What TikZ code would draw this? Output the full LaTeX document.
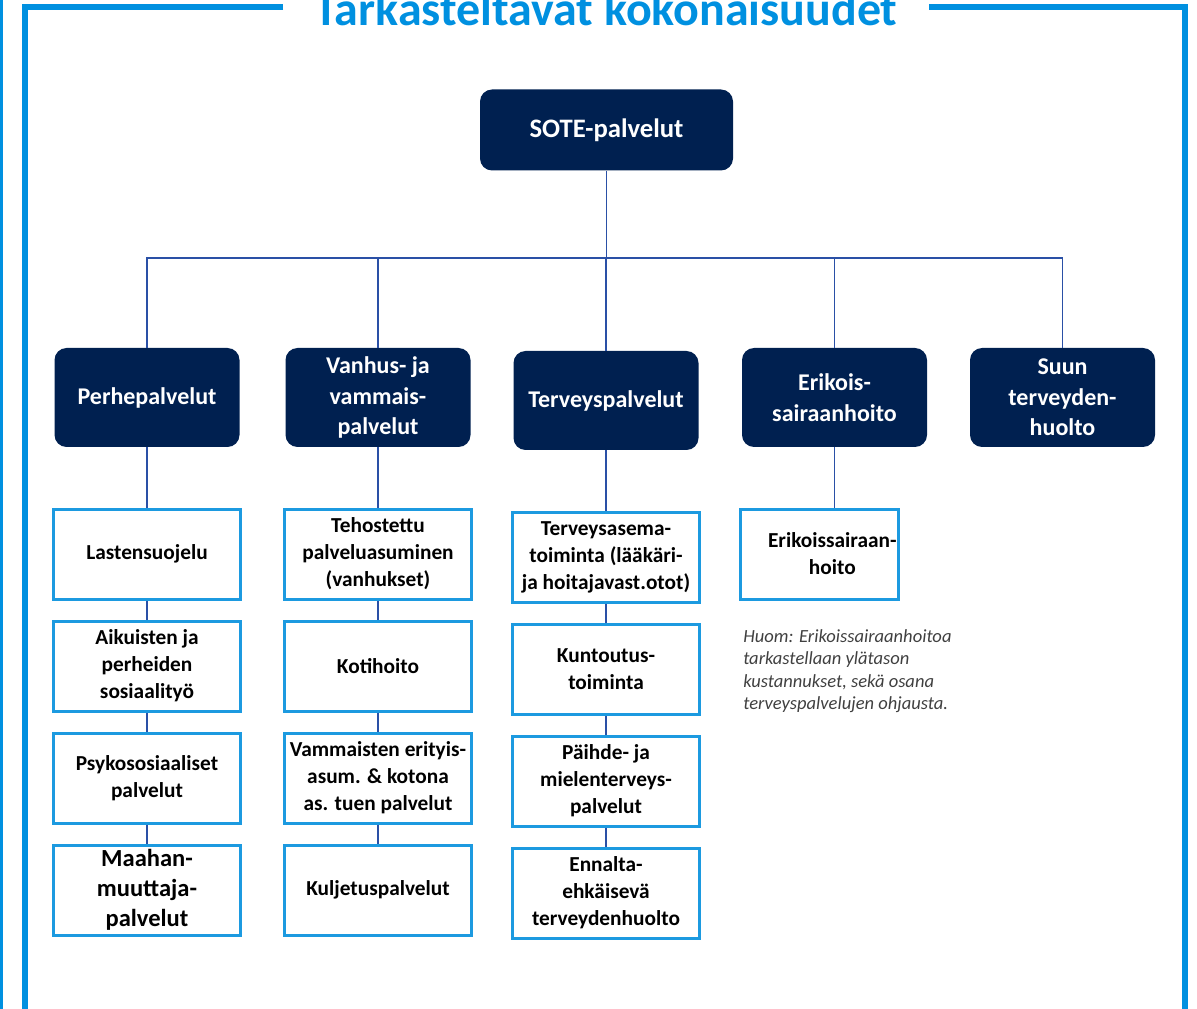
\documentclass[tikz,border=0pt]{standalone}
\usepackage{fontspec}
\setmainfont{Carlito}
\usetikzlibrary{positioning}

\definecolor{navy}{HTML}{002050}
\definecolor{frameblue}{HTML}{0090E0}
\definecolor{boxblue}{HTML}{1C9AE0}
\definecolor{linkblue}{HTML}{2A50A6}
\definecolor{notegray}{HTML}{404040}

\tikzset{
  frame/.style={frameblue,line width=4.5pt},
  headbox/.style={fill=navy,text=white,rounded corners=9pt,align=center,
    minimum width=138.75pt,minimum height=74.25pt,inner sep=2pt,
    font=\bfseries\fontsize{18}{23}\selectfont},
  subbox/.style={draw=boxblue,line width=2.25pt,fill=white,align=center,
    minimum width=140.25pt,minimum height=67.5pt,inner sep=1pt,
    font=\bfseries\fontsize{16}{20.25}\selectfont},
  link/.style={linkblue,line width=1.1pt},
  note/.style={notegray,align=left,inner sep=0pt,
    font=\itshape\fontsize{13.9}{16.9}\selectfont},
}

\begin{document}
\begin{tikzpicture}[x=0.75pt,y=-0.75pt]
\useasboundingbox (0,0) rectangle (1197,1009);

% frame and title
\draw[frameblue,line width=2pt] (1.3,0) -- (1.3,1009);
\draw[frame] (283,7) -- (24.5,7) -- (24.5,1015);
\draw[frame] (929,7) -- (1184.5,7) -- (1184.5,1015);
\node[frameblue,anchor=base,inner sep=0pt,font=\bfseries\fontsize{36}{42}\selectfont] (title) at (606,26) {Tarkasteltavat kokonaisuudet};

% top level
\node[headbox,minimum width=189.75pt,minimum height=60.75pt,font=\bfseries\fontsize{20}{24}\selectfont] (sote) at (606.5,130) {SOTE-palvelut};

% second level
\node[headbox] (perhe) at (147,397.5) {Perhepalvelut};
\node[headbox] (vanhus) at (378,397.5) {Vanhus- ja\\vammais-\\palvelut};
\node[headbox] (terveys) at (606,400.5) {Terveyspalvelut};
\node[headbox] (erik) at (834.5,397.5) {Erikois-\\sairaanhoito};
\node[headbox] (suun) at (1062.5,397.5) {Suun\\terveyden-\\huolto};

\coordinate (bus) at (606,258);
\draw[link] (sote.south) -- (sote.south |- bus);
\draw[link] (perhe.north) -- (perhe.north |- bus) -- (suun.north |- bus) -- (suun.north);
\foreach \n in {vanhus,terveys,erik}
  \draw[link] (\n.north) -- (\n.north |- bus);

% perhepalvelut
\node[subbox] (lasten) at (147,554) {Lastensuojelu};
\node[subbox] (aikuis) at (147,666) {Aikuisten ja\\perheiden\\sosiaalityö};
\node[subbox] (psyko) at (147,778) {Psykososiaaliset\\palvelut};
\node[subbox,font=\bfseries\fontsize{18.4}{22.5}\selectfont] (maahan) at (147,890) {Maahan-\\muuttaja-\\palvelut};
\draw[link] (perhe) -- (lasten) -- (aikuis) -- (psyko) -- (maahan);

% vanhus- ja vammaispalvelut
\node[subbox] (tehost) at (378,554) {Tehostettu\\palveluasuminen\\(vanhukset)};
\node[subbox] (koti) at (378,666) {Kotihoito};
\node[subbox] (vammais) at (378,778) {Vammaisten erityis-\\asum. \& kotona\\as. tuen palvelut};
\node[subbox] (kuljetus) at (378,890) {Kuljetuspalvelut};
\draw[link] (vanhus) -- (tehost) -- (koti) -- (vammais) -- (kuljetus);

% terveyspalvelut
\node[subbox] (asema) at (606,557) {Terveysasema-\\toiminta (lääkäri-\\ja hoitajavast.otot)};
\node[subbox] (kuntou) at (606,669) {Kuntoutus-\\toiminta};
\node[subbox] (paihde) at (606,781) {Päihde- ja\\mielenterveys-\\palvelut};
\node[subbox] (ennalta) at (606,893) {Ennalta-\\ehkäisevä\\terveydenhuolto};
\draw[link] (terveys) -- (asema) -- (kuntou) -- (paihde) -- (ennalta);

% erikoissairaanhoito
\node[subbox,minimum width=118.5pt] (erikh) at (819,554) {\hspace*{20pt}Erikoissairaan-\\\hspace*{20pt}hoito};
\draw[link] (erik.south) -- (erik.south |- erikh.north);
\node[note,anchor=north west] (huom) at (743,629) {Huom: Erikoissairaanhoitoa\\tarkastellaan ylätason\\kustannukset, sekä osana\\terveyspalvelujen ohjausta.};
\end{tikzpicture}
\end{document}
